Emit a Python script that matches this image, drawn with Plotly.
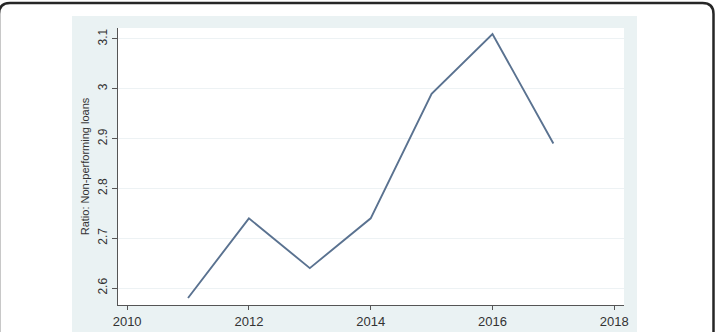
import plotly.graph_objects as go

years = [2011, 2012, 2013, 2014, 2015, 2016, 2017]
npl_ratio = [2.58, 2.74, 2.64, 2.74, 2.99, 3.11, 2.89]
x_ticks = [2010, 2012, 2014, 2016, 2018]
y_ticks = [2.6, 2.7, 2.8, 2.9, 3.0, 3.1]
y_tick_labels = ["2.6", "2.7", "2.8", "2.9", "3", "3.1"]
y_title = "Ratio: Non-performing loans"

W, H = 717, 332
L, R, T, B = 118, 624, 28, 305  # plot area in px


def px(x):
    return (x - L) / (R - L)


def py(y):
    return (B - y) / (B - T)


fig = go.Figure()
fig.add_trace(go.Scatter(
    x=years, y=npl_ratio, mode="lines",
    line=dict(color="#5a7290", width=1.9),
    hoverinfo="skip", showlegend=False,
))

# rounded outer frame
fx0, fx1, fy0, fy1, r = -1.0, 713.5, 3, 345, 11
frame = (
    f"M {px(fx0)},{py(fy0 + r)} "
    f"Q {px(fx0)},{py(fy0)} {px(fx0 + r)},{py(fy0)} "
    f"L {px(fx1 - r)},{py(fy0)} "
    f"Q {px(fx1)},{py(fy0)} {px(fx1)},{py(fy0 + r)} "
    f"L {px(fx1)},{py(fy1)} L {px(fx0)},{py(fy1)} Z"
)

shapes = [
    dict(type="rect", xref="paper", yref="paper", layer="below",
         x0=px(72), x1=px(637), y0=py(340), y1=py(16),
         fillcolor="#eaf2f3", line=dict(width=0)),
    dict(type="rect", xref="paper", yref="paper", layer="below",
         x0=0, x1=1, y0=0, y1=1,
         fillcolor="white", line=dict(width=0)),
    dict(type="path", xref="paper", yref="paper", layer="above",
         path=frame, line=dict(color="#262626", width=2.5)),
]

font_family = "Liberation Sans, Arial, sans-serif"
txt = "#333333"

fig.update_layout(
    width=W, height=H,
    margin=dict(l=L, r=W - R, t=T, b=H - B, pad=0, autoexpand=False),
    paper_bgcolor="white",
    plot_bgcolor="rgba(0,0,0,0)",
    shapes=shapes,
    font=dict(family=font_family, color=txt),
    xaxis=dict(
        range=[2009.85, 2018.16], tickvals=x_ticks,
        ticktext=[str(v) for v in x_ticks],
        showgrid=False, zeroline=False, automargin=False,
        showline=True, linecolor="#555555", linewidth=1,
        ticks="outside", ticklen=4, tickcolor="#555555",
        tickfont=dict(size=13, family=font_family, color=txt),
    ),
    yaxis=dict(
        range=[2.566, 3.122], tickvals=y_ticks, ticktext=y_tick_labels,
        tickangle=-90, automargin=False,
        showgrid=True, gridcolor="#edf2f4", gridwidth=1, zeroline=False,
        showline=True, linecolor="#555555", linewidth=1,
        ticks="outside", ticklen=5, tickcolor="#555555",
        tickfont=dict(size=12, family=font_family, color=txt),
        title=dict(text=y_title, standoff=4,
                   font=dict(size=11, family=font_family, color=txt)),
    ),
)

fig.write_html("out.html")
